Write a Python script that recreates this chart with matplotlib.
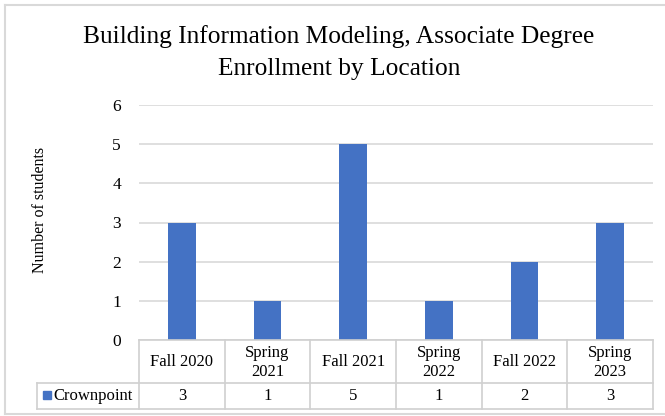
import matplotlib.pyplot as plt
from matplotlib.patches import Rectangle
from matplotlib.lines import Line2D

plt.rcParams['font.family'] = ['Liberation Serif', 'DejaVu Serif']

terms = ['Fall 2020', 'Spring\n2021', 'Fall 2021', 'Spring\n2022', 'Fall 2022', 'Spring\n2023']
crownpoint = [3, 1, 5, 1, 2, 3]
series_name = 'Crownpoint'
title_lines = ['Building Information Modeling, Associate Degree', 'Enrollment by Location']
ylabel = 'Number of students'

W, H = 665, 416
blue = '#4472c4'
grid_col = '#d9d9d9'

fig = plt.figure(figsize=(W / 100, H / 100), dpi=100)


def fx(px):
    return px / W


def fy(py):
    return 1 - py / H


# plot area in pixels
left, right, top, bottom = 139, 653, 105, 340
ax = fig.add_axes([fx(left), fy(bottom), fx(right - left), fy(top) - fy(bottom)])

x = range(len(terms))
ax.bar(x, crownpoint, width=0.32, color=blue, zorder=3)
ax.set_xlim(-0.5, len(terms) - 0.5)
ax.set_ylim(0, 6)
ax.set_yticks(range(0, 7))
ax.yaxis.grid(True, color=grid_col, linewidth=1.2, zorder=0)
ax.tick_params(axis='y', length=0, labelsize=12.5, pad=13)
ax.tick_params(axis='x', length=0, labelbottom=False)
for s in ['top', 'right', 'left', 'bottom']:
    ax.spines[s].set_visible(False)

for line, base in zip(title_lines, [43, 75]):
    fig.text(fx(339), fy(base), line, ha='center', va='baseline', fontsize=18.3)
fig.text(fx(40), fy(210), ylabel, ha='center', va='center', rotation=90, fontsize=11.5)

# data table under the plot
row1, row2, row3 = 340, 383, 409
leg_left = 37
line_kw = dict(color='#d0d0d0', linewidth=1.2, transform=fig.transFigure)
fig.add_artist(Line2D([fx(left), fx(right)], [fy(row1)] * 2, **line_kw))
fig.add_artist(Line2D([fx(leg_left), fx(right)], [fy(row2)] * 2, **line_kw))
fig.add_artist(Line2D([fx(leg_left), fx(right)], [fy(row3)] * 2, **line_kw))
fig.add_artist(Line2D([fx(leg_left)] * 2, [fy(row2), fy(row3)], **line_kw))
cw = (right - left) / len(terms)
for i in range(len(terms) + 1):
    xb = left + i * cw
    fig.add_artist(Line2D([fx(xb)] * 2, [fy(row1), fy(row3)], **line_kw))
for i, (t, v) in enumerate(zip(terms, crownpoint)):
    xc = left + (i + 0.5) * cw
    fig.text(fx(xc), fy((row1 + row2) / 2 + 1), t, ha='center', va='center', fontsize=12, linespacing=1.3)
    fig.text(fx(xc), fy((row2 + row3) / 2), str(v), ha='center', va='center', fontsize=12)
fig.add_artist(Rectangle((fx(43), fy(399)), fx(8), fy(391) - fy(399), color=blue, transform=fig.transFigure))
fig.text(fx(53), fy((row2 + row3) / 2), series_name, ha='left', va='center', fontsize=12)

# outer chart border
border_kw = dict(color=grid_col, linewidth=1.5, transform=fig.transFigure)
fig.add_artist(Line2D([fx(5), 1], [fy(5)] * 2, **border_kw))
fig.add_artist(Line2D([fx(5)] * 2, [fy(5), fy(414)], **border_kw))
fig.add_artist(Line2D([fx(5), 1], [fy(414)] * 2, **border_kw))

fig.savefig('out.png', dpi=100)
